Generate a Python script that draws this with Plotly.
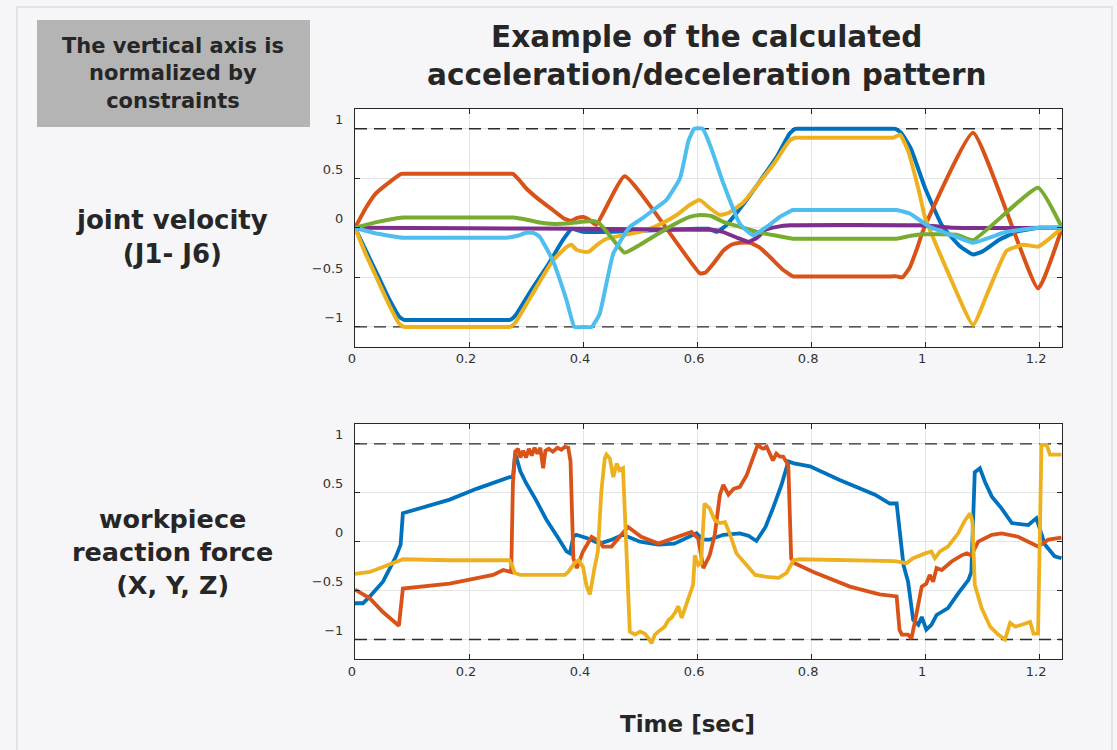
import plotly.graph_objects as go

# ---------------- data ----------------
X_TICKS = [0, 0.2, 0.4, 0.6, 0.8, 1.0, 1.2]
X_TICK_TEXT = ["0", "0.2", "0.4", "0.6", "0.8", "1", "1.2"]
Y_TICKS = [-1, -0.5, 0, 0.5, 1]
Y_TICK_TEXT = ["\u22121", "\u22120.5", "0", "0.5", "1"]
LIMITS = [1, -1]
T_END = 1.24

# joint velocities (t, v)
J1 = [(0, 0), (0.02, -0.24), (0.04, -0.48), (0.06, -0.72), (0.078, -0.9), (0.086, -0.93),
      (0.1, -0.93), (0.26, -0.93),
      (0.272, -0.93), (0.282, -0.88), (0.31, -0.62), (0.34, -0.36), (0.365, -0.12), (0.38, -0.01),
      (0.40, -0.04), (0.45, -0.04), (0.5, -0.03), (0.55, -0.02), (0.6, -0.01), (0.62, -0.01),
      (0.635, -0.04), (0.65, 0.02), (0.68, 0.23), (0.71, 0.47), (0.74, 0.72), (0.762, 0.95),
      (0.772, 1.0), (0.785, 1.0), (0.935, 1.0), (0.948, 1.0), (0.958, 0.96), (0.975, 0.8),
      (1.0, 0.4), (1.03, 0.02), (1.06, -0.18), (1.084, -0.27), (1.1, -0.24), (1.13, -0.12),
      (1.16, -0.04), (1.2, 0), (1.24, 0)]
J2 = [(0, 0), (0.02, 0.21), (0.037, 0.35), (0.06, 0.46), (0.081, 0.545), (0.095, 0.545),
      (0.265, 0.545), (0.277, 0.545),
      (0.29, 0.47), (0.30, 0.40), (0.324, 0.28), (0.347, 0.18), (0.365, 0.10), (0.378, 0.07),
      (0.39, 0.1), (0.40, 0.11), (0.41, 0.085), (0.423, 0.03), (0.473, 0.52), (0.605, -0.46),
      (0.615, -0.45), (0.63, -0.35), (0.646, -0.23), (0.66, -0.17), (0.675, -0.15), (0.693, -0.15),
      (0.71, -0.2), (0.727, -0.29), (0.75, -0.42), (0.768, -0.49), (0.78, -0.49), (0.94, -0.49),
      (0.95, -0.49), (0.96, -0.5), (0.973, -0.40), (0.985, -0.22), (0.997, -0.02), (1.084, 0.96),
      (1.198, -0.61), (1.24, 0)]
J3 = [(0, 0), (0.02, -0.28), (0.04, -0.53), (0.06, -0.78), (0.078, -0.97), (0.086, -1.0),
      (0.1, -1.0), (0.26, -1.0),
      (0.272, -1.0), (0.282, -0.95), (0.31, -0.68), (0.347, -0.33), (0.372, -0.19), (0.38, -0.17),
      (0.388, -0.22), (0.40, -0.24), (0.41, -0.24), (0.425, -0.17), (0.441, -0.11), (0.47, -0.075),
      (0.5, -0.04), (0.517, -0.01), (0.54, 0.05), (0.564, 0.13), (0.587, 0.23), (0.605, 0.28),
      (0.622, 0.2), (0.64, 0.13), (0.655, 0.15), (0.68, 0.25), (0.704, 0.42), (0.735, 0.65),
      (0.762, 0.88), (0.772, 0.91), (0.785, 0.91), (0.93, 0.91), (0.944, 0.91), (0.956, 0.94),
      (0.97, 0.78), (0.99, 0.35), (1.0, 0.1), (1.04, -0.45), (1.084, -0.98), (1.11, -0.65),
      (1.143, -0.23), (1.172, -0.17), (1.198, -0.19), (1.22, -0.1), (1.24, 0)]
J4 = [(0, 0), (0.2, -0.005), (0.4, -0.01), (0.6, -0.02), (0.625, -0.02), (0.645, -0.04),
      (0.67, -0.1), (0.69, -0.14), (0.705, -0.1), (0.72, -0.02), (0.74, 0.01), (0.763, 0.025),
      (0.99, 0.025), (1.02, 0.015), (1.05, 0.0), (1.24, 0)]
J5 = [(0, 0), (0.04, 0.06), (0.084, 0.105), (0.1, 0.105), (0.26, 0.105), (0.277, 0.105),
      (0.30, 0.085), (0.324, 0.054),
      (0.35, 0.04), (0.371, 0.044), (0.395, 0.06), (0.418, 0.07), (0.429, 0.044), (0.45, -0.1),
      (0.473, -0.25), (0.5, -0.17), (0.523, -0.09), (0.555, 0.02), (0.587, 0.11), (0.605, 0.13),
      (0.625, 0.12), (0.646, 0.06), (0.675, 0.01), (0.704, -0.04), (0.74, -0.08), (0.768, -0.11),
      (0.78, -0.11), (0.94, -0.11), (0.95, -0.11), (0.975, -0.08), (0.996, -0.065), (1.055, -0.07),
      (1.084, -0.125), (1.198, 0.405), (1.24, 0)]
J6 = [(0, 0), (0.04, -0.06), (0.084, -0.1), (0.1, -0.1), (0.25, -0.1), (0.266, -0.1),
      (0.285, -0.08), (0.30, -0.05),
      (0.313, -0.05), (0.324, -0.09), (0.347, -0.33), (0.371, -0.73), (0.385, -1.0), (0.4, -1.0),
      (0.415, -1.0), (0.429, -0.87), (0.453, -0.26), (0.482, 0.01), (0.505, 0.1), (0.523, 0.18),
      (0.546, 0.28), (0.57, 0.5), (0.585, 0.88), (0.595, 1.0), (0.61, 1.0), (0.625, 0.8),
      (0.646, 0.45), (0.675, 0.04), (0.698, -0.075), (0.722, 0.01), (0.745, 0.11), (0.768, 0.18),
      (0.78, 0.18), (0.94, 0.18), (0.95, 0.18), (0.973, 0.145), (1.008, 0.01), (1.055, -0.09),
      (1.084, -0.15), (1.143, -0.04), (1.2, 0), (1.24, 0)]

# workpiece reaction forces (t, v)
FX = [(0, -0.63), (0.014, -0.63), (0.026, -0.56), (0.049, -0.41), (0.072, -0.15), (0.08, -0.03),
      (0.084, 0.29), (0.166, 0.43), (0.213, 0.54), (0.271, 0.66), (0.277, 0.66), (0.281, 0.90),
      (0.29, 0.72), (0.30, 0.6), (0.318, 0.42), (0.336, 0.22), (0.355, 0.05), (0.371, -0.10),
      (0.377, -0.12), (0.383, 0.05), (0.388, 0.07), (0.41, 0.03), (0.429, -0.02), (0.45, 0.02),
      (0.47, 0.07), (0.5, 0.0), (0.532, -0.03), (0.56, -0.02), (0.599, 0.085), (0.61, 0.02),
      (0.622, 0.02), (0.646, 0.07), (0.675, 0.085), (0.69, 0.06), (0.704, 0.007), (0.72, 0.15),
      (0.733, 0.34), (0.748, 0.58), (0.76, 0.82), (0.77, 0.8), (0.798, 0.77), (0.85, 0.63),
      (0.912, 0.48), (0.929, 0.415), (0.938, 0.39), (0.95, 0.39), (0.956, 0.07), (0.962, -0.24),
      (0.97, -0.41), (0.979, -0.80), (0.988, -0.85), (0.994, -0.77), (1.002, -0.90), (1.011, -0.85),
      (1.02, -0.75), (1.03, -0.72), (1.04, -0.68), (1.058, -0.53), (1.076, -0.39), (1.081, -0.31),
      (1.087, 0.71), (1.096, 0.75), (1.105, 0.61), (1.117, 0.46), (1.134, 0.34), (1.152, 0.19),
      (1.181, 0.17), (1.195, 0.24), (1.21, -0.03), (1.227, -0.15), (1.239, -0.17)]
FY = [(0, -0.49), (0.026, -0.58), (0.049, -0.72), (0.077, -0.86), (0.084, -0.48), (0.166, -0.43),
      (0.242, -0.34), (0.26, -0.29), (0.274, -0.31), (0.277, 0.6), (0.281, 0.92), (0.286, 0.95),
      (0.29, 0.86), (0.295, 0.93), (0.30, 0.86), (0.305, 0.95), (0.31, 0.88), (0.315, 0.96),
      (0.32, 0.90), (0.325, 0.96), (0.33, 0.75), (0.334, 0.93), (0.34, 0.95), (0.347, 0.92),
      (0.355, 0.96), (0.362, 0.94), (0.368, 0.97), (0.374, 0.96), (0.378, 0.82), (0.383, -0.17),
      (0.389, -0.27), (0.40, -0.10), (0.415, 0.05), (0.429, 0.0), (0.435, -0.05), (0.45, -0.05),
      (0.467, 0.07), (0.479, 0.15), (0.502, 0.05), (0.532, -0.02), (0.59, 0.1), (0.602, 0.03),
      (0.611, -0.27), (0.617, -0.2), (0.622, -0.14), (0.631, 0.07), (0.64, 0.48), (0.646, 0.58),
      (0.655, 0.48), (0.664, 0.54), (0.675, 0.56), (0.687, 0.68), (0.698, 0.85), (0.707, 1.0),
      (0.712, 0.96), (0.716, 0.95), (0.722, 0.97), (0.728, 0.88), (0.733, 0.83), (0.739, 0.9),
      (0.745, 0.87), (0.751, 0.87), (0.76, 0.78), (0.765, -0.17), (0.771, -0.22), (0.804, -0.31),
      (0.868, -0.46), (0.92, -0.54), (0.95, -0.56), (0.955, -0.9), (0.959, -0.95), (0.970, -0.95),
      (0.976, -0.99), (0.982, -0.82), (0.994, -0.46), (1.002, -0.43), (1.008, -0.34), (1.014, -0.41),
      (1.02, -0.27), (1.029, -0.29), (1.047, -0.2), (1.064, -0.14), (1.073, -0.12), (1.081, -0.14),
      (1.093, 0.0), (1.117, 0.07), (1.134, 0.085), (1.163, 0.05), (1.198, -0.05), (1.216, 0.02),
      (1.239, 0.04)]
FZ = [(0, -0.33), (0.026, -0.31), (0.049, -0.26), (0.084, -0.18), (0.166, -0.19), (0.271, -0.19),
      (0.276, -0.25), (0.28, -0.32), (0.29, -0.34), (0.33, -0.34), (0.368, -0.34), (0.374, -0.31),
      (0.385, -0.22), (0.392, -0.19), (0.4, -0.26), (0.406, -0.45), (0.412, -0.54), (0.42, -0.27),
      (0.426, -0.10), (0.432, 0.51), (0.438, 0.85), (0.441, 0.89), (0.447, 0.85), (0.453, 0.66),
      (0.459, 0.80), (0.464, 0.73), (0.47, 0.75), (0.473, 0.34), (0.478, -0.4), (0.482, -0.92),
      (0.491, -0.95), (0.5, -0.92), (0.508, -0.94), (0.514, -0.98), (0.52, -1.04), (0.526, -0.95),
      (0.532, -0.92), (0.543, -0.87), (0.55, -0.8), (0.555, -0.78), (0.562, -0.72), (0.567, -0.66),
      (0.573, -0.78), (0.58, -0.66), (0.584, -0.58), (0.593, -0.44), (0.596, -0.14), (0.602, -0.24),
      (0.607, -0.22), (0.613, 0.39), (0.622, 0.34), (0.631, 0.22), (0.64, 0.19), (0.649, 0.2),
      (0.658, 0.07), (0.669, -0.12), (0.681, -0.20), (0.702, -0.34), (0.722, -0.36), (0.743, -0.37),
      (0.757, -0.32), (0.769, -0.19), (0.78, -0.18), (0.92, -0.19), (0.947, -0.2), (0.967, -0.22),
      (0.979, -0.17), (1.0, -0.12), (1.011, -0.10), (1.017, -0.17), (1.026, -0.10), (1.04, -0.05),
      (1.058, 0.085), (1.07, 0.22), (1.079, 0.29), (1.083, 0.2), (1.087, -0.44), (1.099, -0.68),
      (1.114, -0.87), (1.128, -0.95), (1.14, -1.0), (1.149, -0.83), (1.158, -0.87), (1.169, -0.85),
      (1.184, -0.82), (1.19, -0.94), (1.198, -0.94), (1.204, 0.99), (1.213, 0.99), (1.219, 0.89),
      (1.239, 0.89)]

JOINTS = [J1, J2, J3, J4, J5, J6]
JOINT_NAMES = ["J1", "J2", "J3", "J4", "J5", "J6"]
JOINT_COLORS = ["#0072BD", "#D95319", "#EDB120", "#7E2F8E", "#77AC30", "#4DBEEE"]
FORCES = [FX, FY, FZ]
FORCE_NAMES = ["X", "Y", "Z"]
FORCE_COLORS = ["#0072BD", "#D95319", "#EDB120"]

# ---------------- figure ----------------
W, H = 1117, 750
ML, MR, MT, MB = 355, 55, 109, 91
PW, PH = W - ML - MR, H - MT - MB


def px(xp):
    return (xp - ML) / PW


def py(yp):
    return 1 - (yp - MT) / PH


fig = go.Figure()

for xa, ya in (("x", "y"), ("x2", "y2")):
    for lim in LIMITS:
        fig.add_trace(go.Scatter(x=[0, T_END], y=[lim, lim], mode="lines", xaxis=xa, yaxis=ya,
                                 line=dict(color="#2b2b2b", width=1.4, dash="12px,7px"),
                                 showlegend=False, hoverinfo="skip"))

for data, name, col in zip(JOINTS, JOINT_NAMES, JOINT_COLORS):
    t, v = zip(*data)
    fig.add_trace(go.Scatter(x=t, y=v, mode="lines", name=name, xaxis="x", yaxis="y",
                             line=dict(color=col, width=4, shape="spline", smoothing=0.4),
                             showlegend=False))

for data, name, col in zip(FORCES, FORCE_NAMES, FORCE_COLORS):
    t, v = zip(*data)
    fig.add_trace(go.Scatter(x=t, y=v, mode="lines", name=name, xaxis="x2", yaxis="y2",
                             line=dict(color=col, width=3.8), showlegend=False))

tick_font = dict(family="DejaVu Sans", size=13, color="#333333")
xax = dict(range=[0, T_END], tickvals=X_TICKS, ticktext=X_TICK_TEXT, ticks="inside", ticklen=5,
           tickcolor="#262626", showline=True, linecolor="#262626", linewidth=1, mirror="allticks",
           showgrid=True, gridcolor="#e4e4e4", gridwidth=1, zeroline=False, tickfont=tick_font,
           ticklabelshift=-3, domain=[0, 1])
yax = dict(range=[-1.2, 1.2], tickvals=Y_TICKS, ticktext=Y_TICK_TEXT, ticks="inside", ticklen=5,
           tickcolor="#262626", showline=True, linecolor="#262626", linewidth=1, mirror="allticks",
           showgrid=True, gridcolor="#e4e4e4", gridwidth=1, zeroline=False, tickfont=tick_font,
           ticklabelshift=-9, ticklabelstandoff=8)

fig.update_layout(
    width=W, height=H,
    margin=dict(l=ML, r=MR, t=MT, b=MB),
    paper_bgcolor="#f6f6f8", plot_bgcolor="#ffffff",
    xaxis=dict(xax, anchor="y"),
    yaxis=dict(yax, anchor="x", domain=[py(346.7), 1]),
    xaxis2=dict(xax, anchor="y2"),
    yaxis2=dict(yax, anchor="x2", domain=[0, py(424.3)]),
    showlegend=False,
)

# outer frame and gray note box
fig.add_shape(type="rect", xref="paper", yref="paper", x0=px(17), x1=px(1112), y0=py(770), y1=py(7),
              line=dict(color="#dcdce2", width=1.5), fillcolor="rgba(0,0,0,0)", layer="below")
fig.add_shape(type="rect", xref="paper", yref="paper", x0=px(37), x1=px(310), y0=py(127), y1=py(20),
              line=dict(width=0), fillcolor="#b4b4b4", layer="below")

lab_font = "DejaVu Sans, Liberation Sans, sans-serif"
label_color = "#262626"


def label(text, xp, yp, size):
    fig.add_annotation(xref="paper", yref="paper", x=px(xp), y=py(yp), showarrow=False,
                       xanchor="center", yanchor="middle", text=text, align="center",
                       font=dict(family=lab_font, size=size, color=label_color))


label("<b>The vertical axis is<br>normalized by<br>constraints</b>", 173, 74, 21)
label("<b>Example of the calculated<br>acceleration/deceleration pattern</b>", 706, 56, 29.5)
label("<b>joint velocity<br>(J1- J6)</b>", 172, 237, 26)
label("<b>workpiece<br>reaction force<br>(X, Y, Z)</b>", 172, 552, 25.5)
label("<b>Time [sec]</b>", 687, 724, 23)

fig.write_html("out.html", config={"displayModeBar": False},
               post_script="document.body.style.margin='0';document.body.style.background='#f6f6f8';")
